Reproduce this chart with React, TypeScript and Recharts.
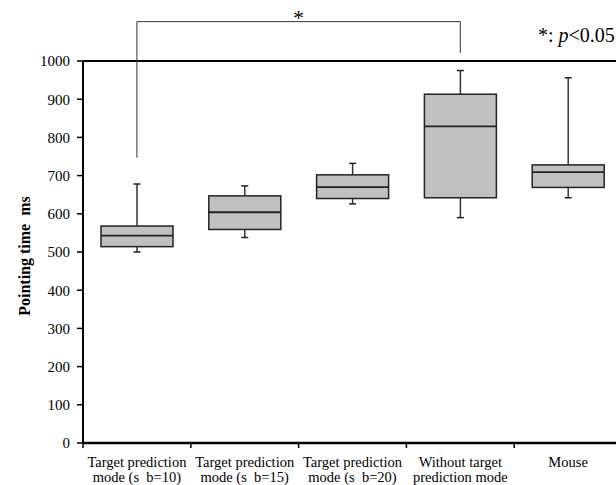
import React from 'react';
import { ComposedChart, Bar, XAxis, YAxis, ReferenceLine } from 'recharts';

const categories = [
  'Target prediction\nmode (s  b=10)',
  'Target prediction\nmode (s  b=15)',
  'Target prediction\nmode (s  b=20)',
  'Without target\nprediction mode',
  'Mouse',
];
const whiskerLow = [500, 538, 626, 590, 642];
const q1 = [514, 559, 640, 642, 669];
const median = [543, 604, 670, 829, 709];
const q3 = [568, 647, 702, 913, 728];
const whiskerHigh = [678, 673, 732, 975, 956];
const yTicks = [0, 100, 200, 300, 400, 500, 600, 700, 800, 900, 1000];

const data = categories.map((name, i) => ({
  name,
  low: whiskerLow[i],
  q1: q1[i],
  median: median[i],
  q3: q3[i],
  high: whiskerHigh[i],
}));

const font = 'Liberation Serif, Times New Roman, serif';

const BoxShape = (props: any) => {
  const { x, y, width, height, payload } = props;
  const { low, high } = payload;
  const py = (v: number) => y + (height * (high - v)) / (high - low);
  const cx = x + width / 2;
  const cap = 3.5;
  return (
    <g>
      <line x1={cx} x2={cx} y1={py(high)} y2={py(payload.q3)} stroke="#333" strokeWidth={1.5} />
      <line x1={cx} x2={cx} y1={py(payload.q1)} y2={py(low)} stroke="#333" strokeWidth={1.5} />
      <line x1={cx - cap} x2={cx + cap} y1={py(high)} y2={py(high)} stroke="#222" strokeWidth={1.5} />
      <line x1={cx - cap} x2={cx + cap} y1={py(low)} y2={py(low)} stroke="#222" strokeWidth={1.5} />
      <rect
        x={x}
        y={py(payload.q3)}
        width={width}
        height={py(payload.q1) - py(payload.q3)}
        fill="#c0c0c0"
        stroke="#222"
        strokeWidth={1.5}
      />
      <line x1={x} x2={x + width} y1={py(payload.median)} y2={py(payload.median)} stroke="#222" strokeWidth={1.8} />
    </g>
  );
};

// tick mark at the left edge of each band, two-line label at its centre
const CategoryTick = (props: any) => {
  const { x, y, payload } = props;
  const lines = String(payload.value).split('\n');
  const off = payload.offset || 0;
  return (
    <g>
      <line x1={x - off} x2={x - off} y1={y} y2={y + 5} stroke="#000" strokeWidth={1.5} />
      <text x={x} y={y + 24} textAnchor="middle" fill="#000" fontFamily={font} fontSize={14.5} style={{ whiteSpace: 'pre' }}>
        {lines.map((l, i) => (
          <tspan key={i} x={x} dy={i === 0 ? 0 : 15}>
            {l}
          </tspan>
        ))}
      </text>
    </g>
  );
};

const YLabel = (props: any) => {
  const vb = props.viewBox || {};
  const cx = vb.x + 24;
  const cy = vb.y + vb.height / 2 + 4;
  return (
    <text
      x={cx}
      y={cy}
      transform={`rotate(-90, ${cx}, ${cy})`}
      textAnchor="middle"
      dominantBaseline="central"
      fill="#000"
      fontFamily={font}
      fontSize={16}
      fontWeight="bold"
      style={{ whiteSpace: 'pre' }}
    >
      Pointing time  ms
    </text>
  );
};

export default function App() {
  return (
    <div
      style={{
        position: 'fixed',
        left: 0,
        top: 0,
        width: 616,
        height: 485,
        overflow: 'hidden',
        background: '#fff',
        fontFamily: font,
      }}
    >
      <ComposedChart
        width={622}
        height={485}
        data={data}
        margin={{ top: 61, right: 0, bottom: 0, left: 0 }}
        barSize={72}
      >
        <XAxis
          dataKey="name"
          type="category"
          height={42}
          tickLine={false}
          tickSize={0}
          tickMargin={0}
          axisLine={{ stroke: '#000', strokeWidth: 2.5 }}
          tick={<CategoryTick />}
          interval={0}
        />
        <YAxis
          type="number"
          domain={[0, 1000]}
          ticks={yTicks}
          width={83}
          tickSize={6}
          tickMargin={7}
          tickLine={{ stroke: '#000', strokeWidth: 1.5 }}
          axisLine={{ stroke: '#000', strokeWidth: 2 }}
          tick={{ fill: '#000', fontSize: 15, fontFamily: font }}
          label={<YLabel />}
        />
        <ReferenceLine y={1000} stroke="#000" strokeWidth={2} />
        <Bar dataKey={(d: any) => [d.low, d.high]} shape={<BoxShape />} isAnimationActive={false} />
        <ReferenceLine
          ifOverflow="visible"
          segment={[
            { x: categories[0], y: 747 },
            { x: categories[0], y: 1103 },
          ]}
          stroke="#333"
          strokeWidth={1}
        />
        <ReferenceLine
          ifOverflow="visible"
          segment={[
            { x: categories[0], y: 1103 },
            { x: categories[3], y: 1103 },
          ]}
          stroke="#333"
          strokeWidth={1}
          label={{ value: '*', position: 'top', offset: -3, fill: '#000', fontSize: 22, fontFamily: font }}
        />
        <ReferenceLine
          ifOverflow="visible"
          segment={[
            { x: categories[3], y: 1103 },
            { x: categories[3], y: 1021 },
          ]}
          stroke="#333"
          strokeWidth={1}
        />
      </ComposedChart>
      <span
        style={{
          position: 'absolute',
          left: 538,
          top: 24,
          fontSize: 20,
          color: '#000',
          whiteSpace: 'nowrap',
        }}
      >
        *: <i>p</i>&lt;0.05
      </span>
    </div>
  );
}
